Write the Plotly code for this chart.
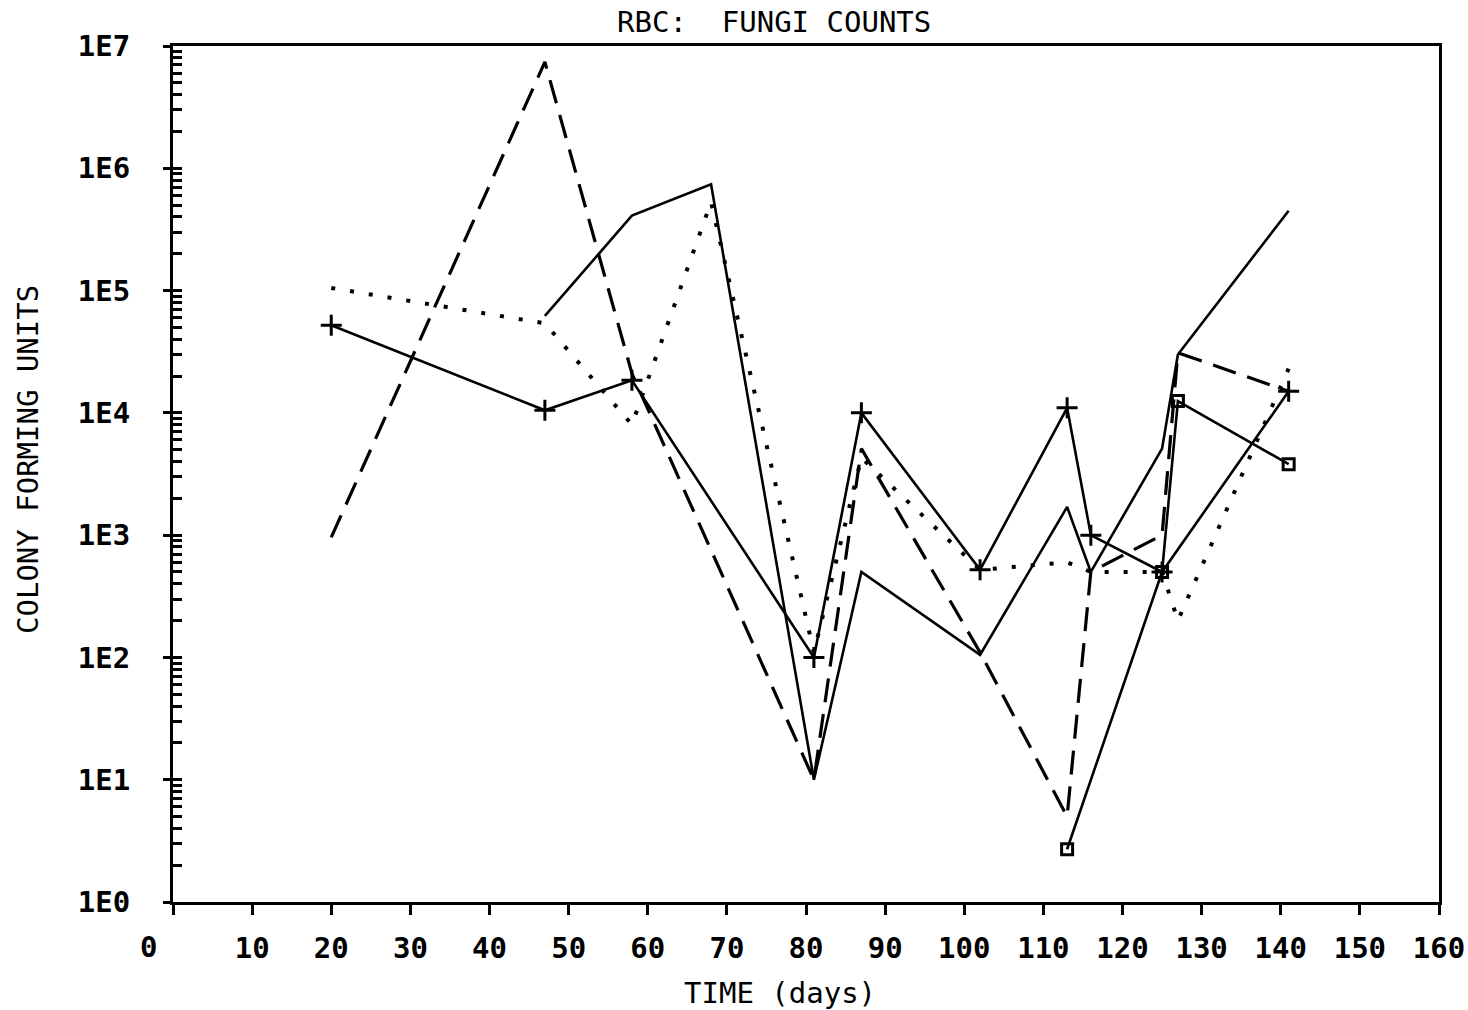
import plotly.graph_objects as go

# ---- data ----
days_a = [20, 47, 58, 81, 87, 102, 113, 116, 125, 141]
cfu_a = [5.2e4, 1.05e4, 1.85e4, 100, 1.0e4, 520, 1.1e4, 1000, 500, 1.5e4]

days_b = [47, 58, 68, 81, 87, 102, 113, 116, 125, 127, 141]
cfu_b = [6.2e4, 4.1e5, 7.4e5, 10, 500, 105, 1700, 500, 5100, 3.0e4, 4.5e5]

days_c = [20, 47, 58, 81, 87, 102, 113, 116, 125, 127, 141]
cfu_c = [960, 7.4e6, 2.1e4, 10, 5100, 110, 5, 500, 1000, 3.1e4, 1.5e4]

days_d = [20, 47, 58, 68, 81, 87, 102, 113, 116, 125, 127, 141]
cfu_d = [1.05e5, 5.4e4, 8000, 5.3e5, 110, 4300, 520, 600, 500, 500, 200, 2.3e4]

days_e = [113, 125, 127, 141]
cfu_e = [2.7, 500, 1.25e4, 3800]

x_ticks = list(range(0, 161, 10))
x_ticklabels = [str(v) for v in x_ticks]
y_ticks = [1, 10, 100, 1e3, 1e4, 1e5, 1e6, 1e7]
y_ticklabels = ["1E0", "1E1", "1E2", "1E3", "1E4", "1E5", "1E6", "1E7"]

FONT = "DejaVu Sans Mono"
FS = 29
INK = "#000000"

fig = go.Figure()

fig.add_trace(go.Scatter(
    x=days_a, y=cfu_a, mode="lines+markers",
    line=dict(color=INK, width=2.6),
    marker=dict(symbol="cross-thin", size=15, line=dict(color=INK, width=3)),
    showlegend=False))

fig.add_trace(go.Scatter(
    x=days_b, y=cfu_b, mode="lines",
    line=dict(color=INK, width=2.6),
    showlegend=False))

fig.add_trace(go.Scatter(
    x=days_c, y=cfu_c, mode="lines",
    line=dict(color=INK, width=3.2, dash="24px,12px"),
    showlegend=False))

fig.add_trace(go.Scatter(
    x=days_d, y=cfu_d, mode="lines",
    line=dict(color=INK, width=4, dash="4px,15px"),
    showlegend=False))

fig.add_trace(go.Scatter(
    x=days_e, y=cfu_e, mode="lines+markers",
    line=dict(color=INK, width=2.6),
    marker=dict(symbol="square-open", size=11, line=dict(color=INK, width=3)),
    showlegend=False))

# invisible helper trace so the overlay axis (outside major ticks) is drawn
fig.add_trace(go.Scatter(
    x=[x_ticks[0]], y=[y_ticks[0]], yaxis="y2", mode="markers",
    marker=dict(opacity=0), hoverinfo="skip", showlegend=False))

tfont = dict(family=FONT, size=FS, color=INK, weight="bold")
lfont = dict(family=FONT, size=FS, color=INK)

fig.update_layout(
    width=1468, height=1010,
    margin=dict(l=173, r=29, t=46, b=108, autoexpand=False),
    paper_bgcolor="white", plot_bgcolor="white",
    font=lfont,
    xaxis=dict(
        range=[0, 160], tickvals=x_ticks,
        ticktext=[("" if v == 0 else t) for v, t in zip(x_ticks, x_ticklabels)],
        ticks="outside", ticklen=10, tickwidth=2.5, tickcolor=INK,
        showline=True, linecolor=INK, linewidth=2.5, mirror=True,
        showgrid=False, zeroline=False, automargin=False,
        tickfont=tfont,
        ticklabelstandoff=8,
    ),
    yaxis=dict(
        type="log", range=[0, 7], tickvals=y_ticks, ticktext=y_ticklabels,
        ticks="inside", ticklen=9, tickwidth=2.5, tickcolor=INK,
        minor=dict(ticks="inside", ticklen=9, tickwidth=2.5, tickcolor=INK,
                   dtick="D1", showgrid=False),
        showline=True, linecolor=INK, linewidth=3, mirror=True,
        showgrid=False, zeroline=False, automargin=False,
        tickfont=tfont,
        ticklabelstandoff=34,
    ),
    yaxis2=dict(
        type="log", range=[0, 7], overlaying="y", side="left",
        tickvals=y_ticks, showticklabels=False, automargin=False,
        ticks="outside", ticklen=9, tickwidth=2.5, tickcolor=INK,
        showline=False, showgrid=False, zeroline=False,
    ),
)

annotations = [
    dict(text="RBC:  FUNGI COUNTS", xref="paper", yref="paper",
         x=(774 - 173) / 1266, y=1 + (46 - 22) / 856,
         xanchor="center", yanchor="middle", showarrow=False, font=lfont),
    dict(text="TIME (days)", xref="paper", yref="paper",
         x=(780 - 173) / 1266, y=-(993 - 902) / 856,
         xanchor="center", yanchor="middle", showarrow=False, font=lfont),
    dict(text="COLONY FORMING UNITS", xref="paper", yref="paper",
         x=(28 - 173) / 1266, y=(902 - 460) / 856, textangle=-90,
         xanchor="center", yanchor="middle", showarrow=False, font=lfont),
    dict(text=x_ticklabels[0], xref="x", yref="paper",
         x=x_ticks[0], y=-(947 - 902) / 856, xshift=-25,
         xanchor="center", yanchor="middle", showarrow=False, font=tfont),
]
fig.update_layout(annotations=annotations)

fig.write_html("out.html")
